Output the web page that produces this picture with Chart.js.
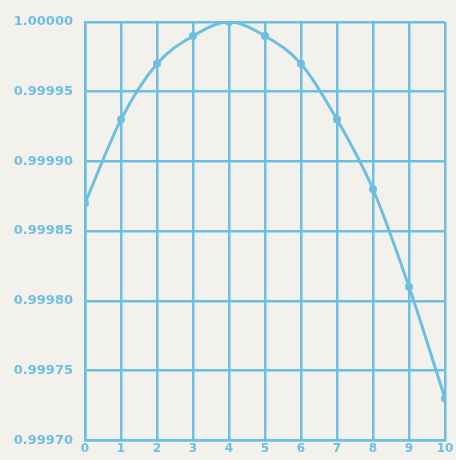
<!DOCTYPE html>
<html>
<head>
<meta charset="utf-8">
<script src="https://cdn.jsdelivr.net/npm/chart.js@4/dist/chart.umd.min.js"></script>
<style>
  html, body { margin: 0; padding: 0; background: #f3f1ec; }
  #wrap { width: 456px; height: 460px; }
</style>
</head>
<body>
<div id="wrap"><canvas id="chart" width="456" height="460"></canvas></div>
<script>
'use strict';

// temperature (deg C) and density
const temps = [0, 1, 2, 3, 4, 5, 6, 7, 8, 9, 10];
const density = [0.99987, 0.99993, 0.99997, 0.99999, 1.00000, 0.99999, 0.99997, 0.99993, 0.99988, 0.99981, 0.99973];
const yTicks = [0.99970, 0.99975, 0.99980, 0.99985, 0.99990, 0.99995, 1.00000];

const blue = '#6dbfe2';

let points = [];
for (let i = 0; i < temps.length; i++) {
    points.push({x: temps[i], y: density[i]});
}

new Chart(document.getElementById('chart').getContext('2d'), {
    type: 'line',
    data: {
        datasets: [{
            data: points,
            borderColor: blue,
            backgroundColor: blue,
            borderWidth: 3,
            pointRadius: 2.5,
            tension: 0.4,
            cubicInterpolationMode: 'monotone'
        }]
    },
    options: {
        responsive: false,
        animation: false,
        layout: {padding: {top: 22, right: 11, left: 0, bottom: 0}},
        plugins: {legend: {display: false}, tooltip: {enabled: false}},
        scales: {
            x: {
                type: 'linear',
                min: 0,
                max: 10,
                afterBuildTicks: function (scale) {
                    scale.ticks = temps.map(function (t) { return {value: t}; });
                },
                afterFit: function (scale) { scale.height = 17; },
                ticks: {
                    color: blue,
                    padding: 1,
                    font: {family: 'DejaVu Sans', size: 12, weight: 'bold'}
                },
                grid: {color: blue, lineWidth: 2.5, drawTicks: false},
                border: {color: blue, width: 2.5}
            },
            y: {
                min: 0.99970,
                max: 1.00000,
                afterBuildTicks: function (scale) {
                    scale.ticks = yTicks.map(function (v) { return {value: v}; });
                },
                afterFit: function (scale) { scale.width = 85; },
                ticks: {
                    color: blue,
                    padding: 12,
                    font: {family: 'DejaVu Sans', size: 13, weight: 'bold'},
                    callback: function (v) { return Number(v).toFixed(5); }
                },
                grid: {color: blue, lineWidth: 2.5, drawTicks: false},
                border: {color: blue, width: 2.5}
            }
        }
    }
});
</script>
</body>
</html>
